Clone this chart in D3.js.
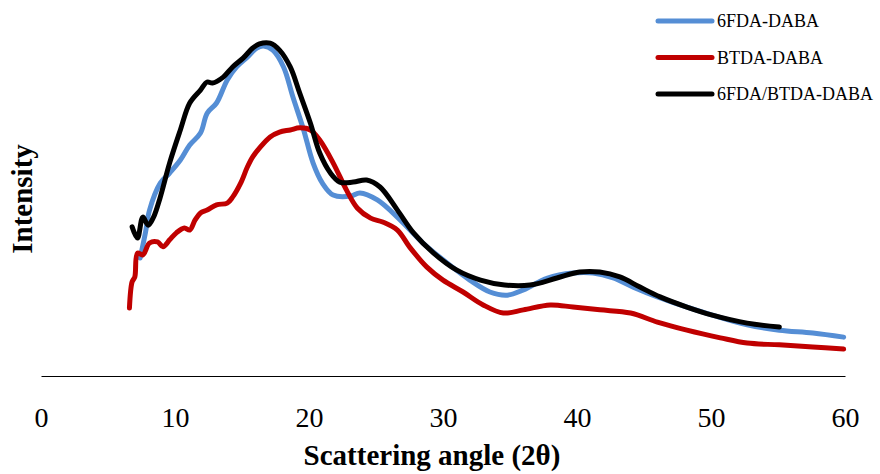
<!DOCTYPE html>
<html>
<head>
<meta charset="utf-8">
<script src="https://cdn.jsdelivr.net/npm/d3@7"></script>
<style>
  body { margin: 0; background: #fff; }
  text { font-family: "Liberation Serif", "Times New Roman", serif; }
</style>
</head>
<body>
<div id="chart"></div>
<script>
var width = 880,
    height = 474;

// series names + colours
var seriesNames = ["6FDA-DABA", "BTDA-DABA", "6FDA/BTDA-DABA"];
var seriesColors = ["#558ed5", "#c00000", "#000000"];

// x tick labels
var xTicks = [0, 10, 20, 30, 40, 50, 60];

// 6FDA-DABA : angle (2theta), intensity (arb. units)
var fdaAngle = [7.4, 7.8, 8.1, 8.9, 9.6, 10.4, 11.1, 11.9, 12.4, 13.1, 13.9, 14.6, 15.4, 16.1, 16.6, 17.3, 18.1, 18.8, 19.6, 20.3, 21.0, 21.8, 23.1, 23.8, 25.1, 26.8, 28.5, 30.3, 32.0, 33.5, 34.8, 36.0, 37.8, 39.7, 41.2, 42.7, 44.2, 46.0, 47.7, 50.1, 52.7, 55.1, 57.6, 59.9];
var fdaInt   = [33.7, 41.1, 47.4, 55.1, 58.0, 61.7, 66.0, 69.4, 75.1, 78.0, 84.6, 88.3, 91.1, 93.7, 94.3, 93.1, 88.3, 79.7, 70.3, 60.9, 55.1, 51.7, 51.4, 52.3, 50.3, 44.6, 38.0, 32.3, 27.4, 24.0, 23.1, 24.6, 28.0, 29.4, 29.4, 28.0, 25.4, 22.6, 20.3, 17.4, 14.6, 13.1, 12.3, 11.1];

// BTDA-DABA
var btdaAngle = [6.6, 6.8, 7.0, 7.2, 7.6, 8.1, 8.7, 9.1, 9.6, 10.1, 10.7, 11.1, 11.5, 11.9, 12.4, 13.1, 13.9, 14.3, 14.9, 15.4, 15.8, 16.3, 17.1, 17.8, 18.6, 19.3, 20.1, 20.8, 21.8, 22.8, 23.6, 24.6, 25.5, 26.6, 27.5, 28.8, 30.0, 31.5, 33.0, 34.5, 36.0, 38.0, 39.7, 41.7, 44.0, 46.0, 48.2, 50.7, 52.7, 55.1, 57.6, 59.9];
var btdaInt   = [19.4, 26.9, 28.3, 35.1, 34.6, 38.0, 38.3, 36.9, 38.9, 40.9, 42.3, 41.7, 44.6, 46.6, 47.4, 48.9, 49.4, 51.1, 55.1, 59.7, 62.6, 65.1, 68.3, 69.7, 70.3, 70.9, 70.3, 67.4, 60.9, 53.1, 48.0, 45.1, 44.0, 41.7, 36.9, 31.1, 27.4, 24.0, 20.3, 18.0, 18.9, 20.3, 19.7, 18.9, 18.0, 15.4, 13.1, 10.9, 9.4, 8.9, 8.3, 7.7];

// 6FDA/BTDA-DABA
var mixAngle = [6.8, 7.2, 7.6, 8.0, 8.4, 8.9, 9.6, 10.4, 11.1, 11.9, 12.4, 12.8, 13.6, 14.3, 15.1, 15.8, 16.3, 17.1, 17.8, 18.6, 19.3, 20.1, 20.8, 21.6, 22.3, 23.3, 24.3, 25.3, 26.6, 27.8, 29.3, 31.0, 32.8, 34.6, 36.5, 38.5, 40.2, 41.7, 43.2, 44.7, 46.2, 48.2, 50.1, 52.7, 55.1];
var mixInt   = [42.6, 39.4, 45.4, 43.1, 45.4, 51.1, 60.9, 70.3, 78.0, 81.7, 84.0, 83.7, 85.4, 88.3, 90.9, 93.7, 94.9, 95.1, 93.1, 88.3, 80.9, 72.3, 63.7, 58.0, 55.4, 55.4, 56.0, 54.0, 47.4, 40.9, 35.1, 30.3, 27.4, 26.0, 26.0, 28.0, 29.7, 29.7, 28.3, 25.4, 22.6, 19.7, 17.4, 15.1, 14.0];

var series = [
    d3.zip(fdaAngle, fdaInt),
    d3.zip(btdaAngle, btdaInt),
    d3.zip(mixAngle, mixInt)
];

var svg = d3.select("#chart")
    .append("svg")
        .attr("width", width)
        .attr("height", height);

var x = d3.scaleLinear()
    .domain([0, 60])
    .range([41, 845]);

var y = d3.scaleLinear()
    .domain([0, 100])
    .range([376, 26]);

// axis line, no tick marks
var xAxis = svg.append("g")
    .attr("transform", "translate(0,376)")
    .call(d3.axisBottom(x).tickValues(xTicks).tickSize(0).tickPadding(0));

xAxis.attr("font-family", "'Liberation Serif', 'Times New Roman', serif")
    .attr("font-size", 28);

xAxis.select(".domain")
    .attr("stroke", "#000")
    .attr("stroke-width", 1);

xAxis.selectAll("text")
    .attr("y", 51)
    .attr("dy", null)
    .attr("fill", "#000");

svg.append("text")
    .attr("x", 432)
    .attr("y", 465)
    .attr("text-anchor", "middle")
    .style("font-size", "29px")
    .style("font-weight", "bold")
    .text("Scattering angle (2θ)");

svg.append("text")
    .attr("transform", "translate(32,199) rotate(-90)")
    .attr("text-anchor", "middle")
    .style("font-size", "29px")
    .style("font-weight", "bold")
    .text("Intensity");

var line = d3.line()
    .x(function(d) { return x(d[0]); })
    .y(function(d) { return y(d[1]); })
    .curve(d3.curveCatmullRom);

svg.selectAll(".series")
    .data(series)
    .enter()
    .append("path")
        .attr("class", "series")
        .attr("d", line)
        .attr("fill", "none")
        .attr("stroke", function(d, i) { return seriesColors[i]; })
        .attr("stroke-width", 5)
        .attr("stroke-linecap", "round")
        .attr("stroke-linejoin", "round");

// legend
var legend = svg.selectAll(".legend")
    .data(seriesNames)
    .enter()
    .append("g")
        .attr("class", "legend")
        .attr("transform", function(d, i) {
            return "translate(658," + (21 + i * 36.5) + ")";
        });

legend.append("line")
    .attr("x1", 0)
    .attr("x2", 54)
    .attr("stroke", function(d, i) { return seriesColors[i]; })
    .attr("stroke-width", 5)
    .attr("stroke-linecap", "round");

legend.append("text")
    .attr("x", 59)
    .attr("y", 6)
    .style("font-size", "18px")
    .text(function(d) { return d; });
</script>
</body>
</html>
